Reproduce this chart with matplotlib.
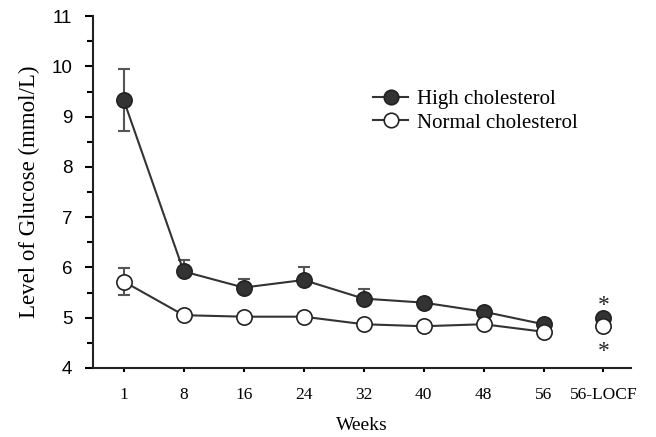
import matplotlib.pyplot as plt
import numpy as np

weeks = ['1', '8', '16', '24', '32', '40', '48', '56', '56-LOCF']
high = [9.33, 5.92, 5.60, 5.75, 5.38, 5.30, 5.12, 4.87, 5.00]
high_err = [0.62, 0.22, 0.18, 0.25, 0.20, 0.0, 0.0, 0.0, 0.0]
normal = [5.72, 5.05, 5.02, 5.02, 4.87, 4.83, 4.87, 4.72, 4.83]
normal_err = [0.27, 0.0, 0.0, 0.0, 0.0, 0.0, 0.0, 0.0, 0.0]

serif = ['Liberation Serif', 'DejaVu Serif']
sans = ['Liberation Sans', 'DejaVu Sans']

fig = plt.figure(figsize=(6.56, 4.37), dpi=100)
ax = fig.add_axes([0.142, 0.158, 0.82, 0.805])

x = np.arange(len(weeks))
line_col = '#333333'
ms = 11

# error bars: upward for all, plus the lower half at week 1
ax.errorbar(x[:-1], high[:-1], yerr=[np.zeros(8), high_err[:-1]], fmt='none',
            ecolor='#555555', elinewidth=1.5, capsize=4, capthick=1.5, zorder=2)
ax.errorbar(x[:1], high[:1], yerr=[[high_err[0]], [0]], fmt='none',
            ecolor='#555555', elinewidth=1.5, capsize=4, capthick=1.5, zorder=2)
ax.errorbar(x[:1], normal[:1], yerr=[[normal_err[0]], [normal_err[0]]], fmt='none',
            ecolor='#555555', elinewidth=1.5, capsize=4, capthick=1.5, zorder=2)

ax.plot(x[:-1], high[:-1], '-o', color=line_col, lw=1.5, ms=ms,
        mfc='#333333', mec='#222222', mew=1.2, zorder=3, label='High cholesterol')
ax.plot(x[:-1], normal[:-1], '-o', color=line_col, lw=1.5, ms=ms,
        mfc='white', mec='#222222', mew=1.2, zorder=4, label='Normal cholesterol')
ax.plot(x[-1], high[-1], 'o', ms=ms, mfc='#333333', mec='#222222', mew=1.2, zorder=3)
ax.plot(x[-1], normal[-1], 'o', ms=ms, mfc='white', mec='#222222', mew=1.2, zorder=4)

ax.text(x[-1], high[-1] + 0.25, '*', ha='center', va='center', fontsize=17,
        family=serif, color='#222222')
ax.text(x[-1], normal[-1] - 0.5, '*', ha='center', va='center', fontsize=17,
        family=serif, color='#222222')

ax.set_xlim(-0.51, 8.46)
ax.set_ylim(4, 11)
ax.set_xticks(x)
ax.set_xticklabels(weeks, family=serif, fontsize=12.5)
ax.set_yticks(range(4, 12))
ax.set_yticklabels([str(v) for v in range(4, 12)], family=sans, fontsize=13.5)
ax.set_yticks(np.arange(4.5, 11, 1.0), minor=True)
ax.tick_params(axis='y', which='major', direction='out', length=6, width=1.5, pad=9)
ax.tick_params(axis='y', which='minor', direction='out', length=4, width=1.5)
ax.tick_params(axis='x', direction='out', length=3, width=1.5, pad=11)

for s in ['top', 'right']:
    ax.spines[s].set_visible(False)
for s in ['left', 'bottom']:
    ax.spines[s].set_linewidth(1.5)
    ax.spines[s].set_color('#222222')

ax.set_ylabel('Level of Glucose (mmol/L)', family=serif, fontsize=16.5, labelpad=8)
ax.set_xlabel('Weeks', family=serif, fontsize=14, labelpad=10)

leg = ax.legend(loc='upper left', bbox_to_anchor=(0.485, 0.845), frameon=False,
                prop={'family': serif, 'size': 15}, handlelength=1.7,
                handletextpad=0.4, labelspacing=0.2, markerscale=0.95)

fig.savefig('out.png', dpi=100)
